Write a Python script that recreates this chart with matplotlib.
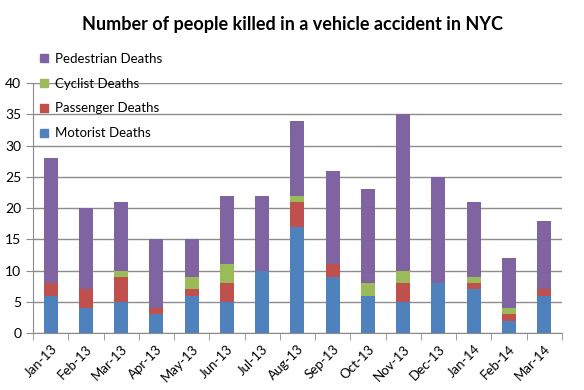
import matplotlib
matplotlib.use("Agg")
import matplotlib.pyplot as plt
from matplotlib.patches import Patch
import numpy as np

months = ["Jan-13", "Feb-13", "Mar-13", "Apr-13", "May-13", "Jun-13", "Jul-13",
          "Aug-13", "Sep-13", "Oct-13", "Nov-13", "Dec-13", "Jan-14", "Feb-14", "Mar-14"]
motorist = [6, 4, 5, 3, 6, 5, 10, 17, 9, 6, 5, 8, 7, 2, 6]
passenger = [2, 3, 4, 1, 1, 3, 0, 4, 2, 0, 3, 0, 1, 1, 1]
cyclist = [0, 0, 1, 0, 2, 3, 0, 1, 0, 2, 2, 0, 1, 1, 0]
pedestrian = [20, 13, 11, 11, 6, 11, 12, 12, 15, 15, 25, 17, 12, 8, 11]

colors = {"Motorist Deaths": "#4F81BD", "Passenger Deaths": "#C0504D",
          "Cyclist Deaths": "#9BBB59", "Pedestrian Deaths": "#8064A2"}

plt.rcParams['font.family'] = ['Lato', 'DejaVu Sans']

fig = plt.figure(figsize=(5.84, 3.9), dpi=100)
ax = fig.add_axes([0.0565, 0.146, 0.9055, 0.641])

x = np.arange(len(months))
w = 0.4
bottom = np.zeros(len(months))
series = [("Motorist Deaths", motorist), ("Passenger Deaths", passenger),
          ("Cyclist Deaths", cyclist), ("Pedestrian Deaths", pedestrian)]
for name, vals in series:
    ax.bar(x, vals, w, bottom=bottom, color=colors[name], zorder=3, linewidth=0)
    bottom += np.array(vals)

ax.set_xlim(-0.5, len(months) - 0.5)
ax.set_ylim(0, 40)
ax.set_yticks(range(0, 41, 5))
ax.yaxis.grid(True, color="#8c8c8c", linewidth=1, zorder=0)
ax.set_axisbelow(True)
for s in ["top", "right"]:
    ax.spines[s].set_visible(False)
for s in ["left", "bottom"]:
    ax.spines[s].set_color("#8c8c8c")
ax.set_xticks(x)
ax.set_xticklabels(months, rotation=45, ha="right", rotation_mode="anchor", fontsize=9.5)
ax.set_xticks(np.arange(-0.5, len(months), 1), minor=True)
ax.tick_params(axis="x", which="major", length=0, pad=7)
ax.tick_params(axis="x", which="minor", length=5, color="#8c8c8c")
ax.tick_params(axis="y", length=5, color="#8c8c8c", labelsize=10)

handles = [Patch(color=colors[n]) for n in ["Pedestrian Deaths", "Cyclist Deaths",
                                              "Passenger Deaths", "Motorist Deaths"]]
labels = ["Pedestrian Deaths", "Cyclist Deaths", "Passenger Deaths", "Motorist Deaths"]
fig.legend(handles, labels, loc="upper left", bbox_to_anchor=(0.058, 0.882),
           frameon=False, fontsize=9.5, handlelength=0.6, handleheight=0.6,
           handletextpad=0.5, labelspacing=0.98, borderpad=0)

fig.suptitle("Number of people killed in a vehicle accident in NYC", y=0.96,
             fontsize=13, fontweight="bold")

fig.savefig("out.png", dpi=100)
